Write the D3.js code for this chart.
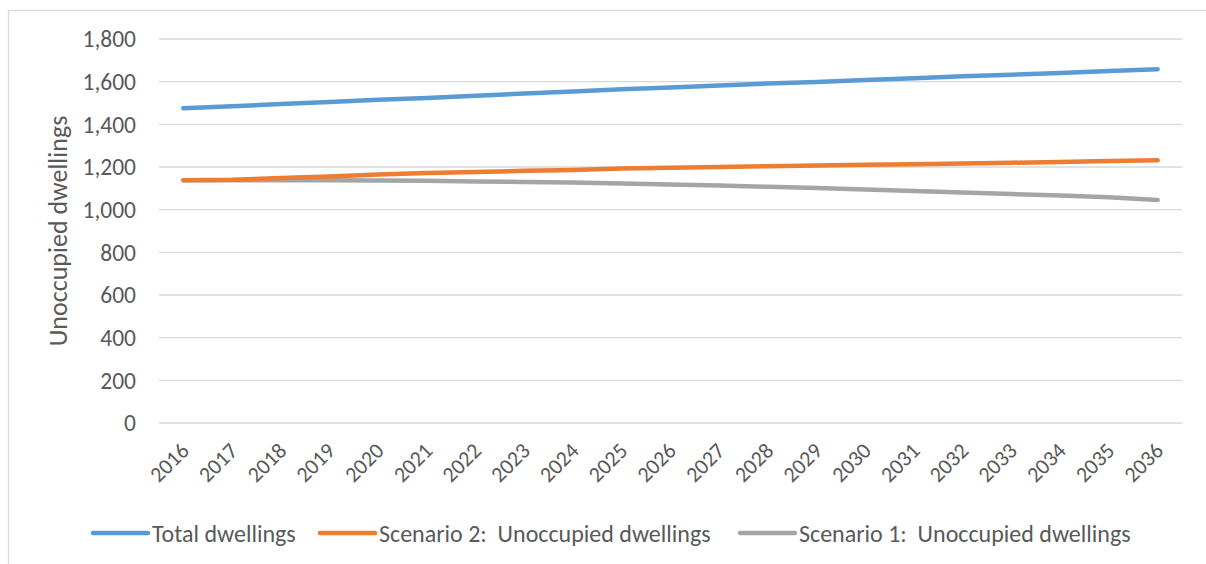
<!DOCTYPE html>
<html><head><meta charset="utf-8">
<script src="https://cdn.jsdelivr.net/npm/d3@7"></script>
<style>body{margin:0;background:#fff}svg{display:block}text{font-family:Calibri,Carlito,"Liberation Sans",sans-serif;fill:#595959;white-space:pre}</style>
</head><body>
<svg id="c" width="1206" height="564"></svg>
<script>
const years = ["2016","2017","2018","2019","2020","2021","2022","2023","2024","2025","2026","2027","2028","2029","2030","2031","2032","2033","2034","2035","2036"];
const totalDwellings = [1475,1485,1495,1505,1515,1524,1534,1544,1554,1564,1573,1582,1591,1599,1608,1616,1625,1633,1641,1650,1658];
const scenario2 = [1138,1140,1148,1156,1165,1172,1177,1182,1186,1193,1197,1200,1204,1207,1210,1213,1216,1220,1224,1228,1232];
const scenario1 = [1138,1138,1138,1138,1137,1135,1132,1130,1127,1123,1118,1113,1107,1101,1094,1088,1080,1073,1066,1058,1045];
const yTicks = [0,200,400,600,800,1000,1200,1400,1600,1800];
const seriesNames = ["Total dwellings","Scenario 2:  Unoccupied dwellings","Scenario 1:  Unoccupied dwellings"];
const seriesColors = ["#5B9BD5","#ED7D31","#A5A5A5"];
const yTitle = "Unoccupied dwellings";

const svg = d3.select("#c");
svg.append("rect").attr("x",8.5).attr("y",10.5).attr("width",1230).attr("height",600)
  .attr("fill","none").attr("stroke","#D9D9D9").attr("stroke-width",1.3);

const x = d3.scalePoint().domain(years).range([159,1182]).padding(0.5);
const y = d3.scaleLinear().domain([0,1800]).range([423,39]);

svg.append("g").selectAll("line").data(yTicks).join("line")
  .attr("x1",159).attr("x2",1182).attr("y1",d=>y(d)).attr("y2",d=>y(d))
  .attr("stroke","#D9D9D9").attr("stroke-width",1.3);

const fmt = d3.format(",");
svg.append("g").selectAll("text").data(yTicks).join("text")
  .attr("x",136).attr("y",d=>y(d)).attr("dy","0.36em").attr("text-anchor","end")
  .attr("font-size",23.5).text(d=>fmt(d));

svg.append("g").selectAll("text").data(years).join("text")
  .attr("transform",d=>`translate(${x(d)+7},${452}) rotate(-45)`)
  .attr("text-anchor","end").attr("font-size",22).text(d=>d);

svg.append("text").attr("transform","translate(67,231) rotate(-90)")
  .attr("text-anchor","middle").attr("font-size",26).text(yTitle);

const seriesData = [totalDwellings, scenario2, scenario1];
const line = d3.line().x((d,i)=>x(years[i])).y(d=>y(d));
[2,1,0].forEach(k=>{
  svg.append("path").datum(seriesData[k]).attr("d",line)
    .attr("fill","none").attr("stroke",seriesColors[k]).attr("stroke-width",4.5)
    .attr("stroke-linecap","round").attr("stroke-linejoin","round");
});

const legX = [93,320,740];
const lg = svg.append("g");
seriesNames.forEach((n,k)=>{
  lg.append("line").attr("x1",legX[k]).attr("x2",legX[k]+55).attr("y1",533).attr("y2",533)
    .attr("stroke",seriesColors[k]).attr("stroke-width",4.5).attr("stroke-linecap","round");
  lg.append("text").attr("x",legX[k]+59).attr("y",533).attr("dy","0.36em")
    .attr("font-size",24).text(n);
});
</script>
</body></html>
